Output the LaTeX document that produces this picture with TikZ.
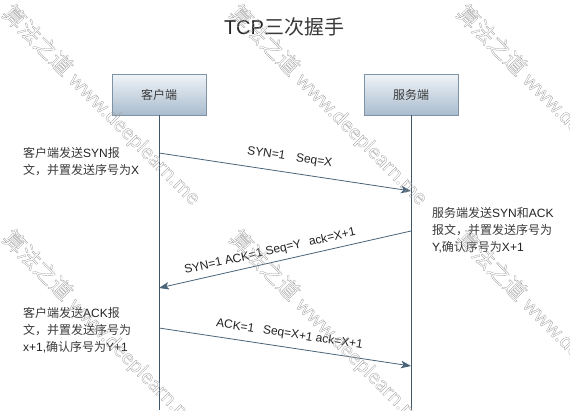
\documentclass[tikz,border=0pt]{standalone}
\usepackage{fontspec}
\setmainfont{Liberation Sans}
\newfontfamily\cjk{Noto Sans CJK SC}
\newfontfamily\wmlat{Carlito}
\usetikzlibrary{arrows.meta}
\definecolor{lifeC}{HTML}{3F5669}
\definecolor{arrC}{HTML}{4A6479}
\definecolor{boxB}{HTML}{7F93A7}
\definecolor{boxT}{HTML}{F0F4F8}
\definecolor{boxBot}{HTML}{A9BCCE}
\definecolor{txtC}{HTML}{222222}
\definecolor{cjkC}{HTML}{3A3A3A}
\definecolor{wmC}{HTML}{A0A0A0}
\newcommand{\zh}[1]{{\cjk\color{cjkC}#1}}
\newcommand{\wmtext}{\special{pdf:literal direct q 1 Tr 0.3 w}{\cjk 算法之道} {\wmlat www.deeplearn.me}\special{pdf:literal direct Q}}
\begin{document}
\begin{tikzpicture}[x=1pt,y=-1pt,
  actor/.style={draw=boxB, line width=0.8pt, top color=boxT, bottom color=boxBot,
    minimum width=94pt, minimum height=41pt, inner sep=0pt,
    font=\cjk\fontsize{12}{14}\selectfont, text=cjkC},
  life/.style={draw=lifeC, line width=0.9pt},
  msg/.style={draw=arrC, line width=0.8pt, -{Stealth[length=10pt,width=7.5pt,inset=2.5pt]}},
  lbl/.style={sloped, inner sep=0pt, font=\fontsize{12}{14}\selectfont, text=txtC},
  note/.style={anchor=base west, align=left, inner sep=0pt, font=\fontsize{12}{17}\selectfont, text=txtC},
  wm/.style={rotate=-45, inner sep=0pt, text=wmC, font=\fontsize{22}{22}\selectfont}
]
\fill[white] (0,0) rectangle (570,410);
\useasboundingbox (0,0) rectangle (570,410);

\node[font=\fontsize{20}{24}\selectfont, text=txtC] (title) at (284,27) {TCP{\cjk\color{cjkC}三次握手}};

\node[actor] (c) at (159,94.5) {客户端};
\node[actor] (s) at (411,94.5) {服务端};
\coordinate (cb) at (159,410);
\coordinate (sb) at (411,410);
\draw[life] (c.south) -- (cb);
\draw[life] (s.south) -- (sb);

\coordinate (c1) at (159,153); \coordinate (s1) at (411,191);
\coordinate (s2) at (411,231); \coordinate (c2) at (159,288);
\coordinate (c3) at (159,328); \coordinate (s3) at (411,366);

\draw[msg] (c1) -- node[lbl, above=9pt, pos=0.51] (m1) {SYN=1\hspace{11pt}Seq=X} (s1);
\draw[msg] (s2) -- node[lbl, above=5pt, pos=0.55] (m2) {SYN=1 ACK=1 Seq=Y\hspace{8pt}ack=X+1} (c2);
\draw[msg] (c3) -- node[lbl, above=7pt, pos=0.51] (m3) {ACK=1\hspace{9pt}Seq=X+1 ack=X+1} (s3);

% base anchor = baseline of the last line
\node[note] (n1) at (23,174.5) {\zh{客户端发送}SYN\zh{报}\\\zh{文，并置发送序号为}X};
\node[note] (n2) at (432,251.5) {\zh{服务端发送}SYN\zh{和}ACK\\\zh{报文，并置发送序号为}\\Y,\zh{确认序号为}X+1};
\node[note] (n3) at (23,351) {\zh{客户端发送}ACK\zh{报}\\\zh{文，并置发送序号为}\\x+1,\zh{确认序号为}Y+1};

\node[wm] (wm1) at (102,105) {\wmtext};
\node[wm] (wm2) at (329,105) {\wmtext};
\node[wm] (wm3) at (556,105) {\wmtext};
\node[wm] (wm4) at (102,330) {\wmtext};
\node[wm] (wm5) at (329,330) {\wmtext};
\node[wm] (wm6) at (556,330) {\wmtext};
\end{tikzpicture}
\end{document}
